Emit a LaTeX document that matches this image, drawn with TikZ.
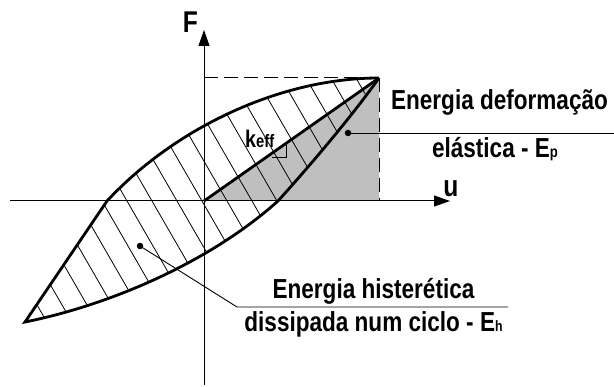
\documentclass[tikz,border=0pt]{standalone}
\usepackage{fontspec}
\newfontfamily\lab[FakeStretch=0.82]{Liberation Sans}
\usetikzlibrary{arrows.meta}
\begin{document}
\begin{tikzpicture}[x=1pt,y=-1pt,
  thickline/.style={line width=2.8pt},
  thinline/.style={line width=0.9pt},
  axisline/.style={line width=1pt, -{Triangle[length=16pt,width=11pt]}},
  dashline/.style={line width=1pt, dash pattern=on 14pt off 6pt},
  hatchline/.style={line width=0.8pt},
  lbl/.style={font=\lab\bfseries\fontsize{27.5}{30}\selectfont, inner sep=0pt, anchor=base},
  axlbl/.style={font=\lab\bfseries\fontsize{30}{32}\selectfont, inner sep=0pt, anchor=base},
  dotmark/.style={circle, fill=black, inner sep=0pt, minimum size=6.5pt}
]
\useasboundingbox (0,0) rectangle (614,387);
\coordinate (O) at (204,201);
\coordinate (P) at (379,78);
\coordinate (Pb) at (379,201);
\coordinate (Ylev) at (204,78);
\coordinate (Ftop) at (204,30);
\coordinate (Fbot) at (204,385);
\coordinate (Uleft) at (10,201);
\coordinate (Uright) at (450,201);
\coordinate (A) at (278,201);
\coordinate (B) at (25,322);
\coordinate (C) at (107,201);
% grey elastic energy triangle
\fill[gray!50] (O) -- (P) -- (Pb) -- cycle;
% hatching inside the loop
\begin{scope}
  \clip (P) .. controls (355,112) and (315,160) .. (A) .. controls (210,262) and (110,305) .. (B) -- (C) .. controls (175,128) and (280,78) .. (P) -- cycle;
  \foreach \k in {-7,...,15}{
    \pgfmathsetmacro{\xa}{102+25*\k-115.5}
    \pgfmathsetmacro{\xb}{102+25*\k+115.5}
    \draw[hatchline] (\xa,1) -- (\xb,401);
  }
\end{scope}
% dashed lines
\draw[dashline] (Ylev) -- (P);
\draw[dashline] (P) -- (Pb);
% axes
\draw[axisline] (Fbot) -- (Ftop);
\draw[axisline] (Uleft) -- (Uright);
\node[axlbl] (Flab) at (190.5,33) {F};
\node[axlbl] (ulab) at (451,197) {u};
% secant stiffness
\draw[thickline] (O) -- (P);
% hysteresis loop
\draw[thickline] (P) .. controls (355,112) and (315,160) .. (A) .. controls (210,262) and (110,305) .. (B) -- (C) .. controls (175,128) and (280,78) .. (P);
% slope marker
\coordinate (m1) at (272,157);
\coordinate (m2) at (286,157);
\coordinate (m3) at (286,145);
\draw[thinline] (m1) -- (m2) -- (m3);
\node[inner sep=0pt, anchor=base west, font=\lab\bfseries] (keff) at (245,148) {{\fontsize{24}{24}\selectfont k}{\fontsize{18}{18}\selectfont eff}};
% leaders
\node[dotmark] (d1) at (348,133) {};
\coordinate (e1) at (614,133);
\draw[thinline] (d1.center) -- (e1);
\node[dotmark] (d2) at (140,246) {};
\coordinate (k2) at (237,307);
\coordinate (e2) at (508,307);
\draw[thinline] (d2.center) -- (k2) -- (e2);
% labels
\node[lbl] (t1) at (499.5,110) {Energia deformação};
\node[lbl] (t2) at (495,158) {elástica - E{\fontsize{16}{16}\selectfont p}};
\node[lbl] (t3) at (373.5,299) {Energia histerética};
\node[lbl] (t4) at (373.5,332) {dissipada num ciclo - E{\fontsize{15}{15}\selectfont h}};
\end{tikzpicture}
\end{document}
